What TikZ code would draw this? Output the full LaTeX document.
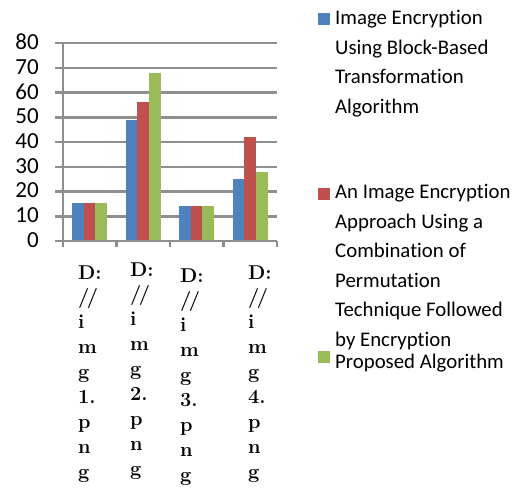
\documentclass[tikz,border=0pt]{standalone}
\usepackage{fontspec}
\newfontfamily\calibri[Ligatures=NoCommon]{Carlito}
\definecolor{serA}{HTML}{4F81BD}
\definecolor{serB}{HTML}{C0504D}
\definecolor{serC}{HTML}{9BBB59}
\definecolor{gridgray}{HTML}{8E8E8E}
\tikzset{
  grid line/.style={draw=gridgray, line width=2.5pt},
  ylab/.style={anchor=east, inner sep=0pt, font=\calibri\fontsize{23}{23}\selectfont},
  catlab/.style={anchor=base west, inner sep=0pt, font=\bfseries\fontsize{20}{20}\selectfont},
  legtext/.style={anchor=base west, inner sep=0pt, align=left, font=\calibri\fontsize{20.8}{29.5}\selectfont},
  legkey/.style={minimum size=12pt, inner sep=0pt, anchor=north west},
}
\newcommand\slashes{/\kern-2.5pt/}
\begin{document}
\begin{tikzpicture}[x=1pt, y=-1pt]
  \useasboundingbox (0,0) rectangle (513,488);
  % grid and value labels
  \foreach \v in {1,...,8}
    \draw[grid line] (55,{241-24.75*\v}) -- (277,{241-24.75*\v});
  \foreach \v/\t in {0/0,1/10,2/20,3/30,4/40,5/50,6/60,7/70,8/80}
    \node[ylab] (y\v) at (39,{240-24.75*\v}) {\t};
  % bars
  \foreach \g/\a/\b/\c in {0/15.5/15.5/15.5, 1/49/56/68, 2/14/14/14, 3/25/42/28} {
    \pgfmathsetmacro\bx{72.25+53.5*\g}
    \fill[serA] (\bx,241) rectangle ({\bx+11.6},{241-2.475*\a});
    \fill[serB] ({\bx+11.6},241) rectangle ({\bx+23.2},{241-2.475*\b});
    \fill[serC] ({\bx+23.2},241) rectangle ({\bx+34.8},{241-2.475*\c});
  }
  % axes
  \draw[grid line] (55,241) -- (277,241);
  \draw[grid line] (63,43) -- (63,247);
  \foreach \i in {1,...,4}
    \draw[grid line] ({63+53.5*\i},241) -- ({63+53.5*\i},247);
  % category labels
  \foreach \c/\x/\dy in {1/78/0, 2/130/-3, 3/180/3, 4/248/0}
    \foreach \s [count=\r] in {D:,\slashes,i,m,g,\c.,p,n,g}
      \node[catlab] (c\c r\r) at (\x,{279+\dy+24.9*(\r-1)}) {\s};
  % legend
  \node[legkey, fill=serA] (key1) at (318,13) {};
  \node[legkey, fill=serB] (key2) at (318,188) {};
  \node[legkey, fill=serC] (key3) at (318,351) {};
  \node[legtext] (leg1) at (335,113) {Image Encryption\\Using Block-Based\\Transformation\\Algorithm};
  \node[legtext] (leg2) at (335,346) {An Image Encryption\\Approach Using a\\Combination of\\Permutation\\Technique Followed\\by Encryption};
  \node[legtext] (leg3) at (335,368) {Proposed Algorithm};
\end{tikzpicture}
\end{document}
